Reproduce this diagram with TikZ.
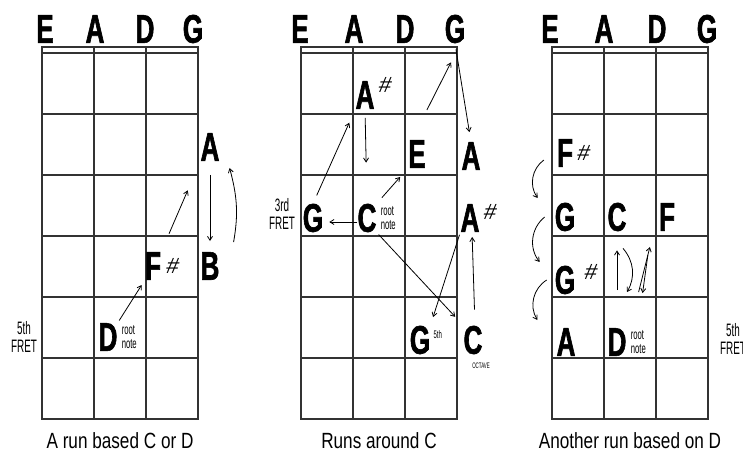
\documentclass[tikz,border=0pt]{standalone}
\usepackage{fontspec}
\setmainfont{Liberation Sans}
\newfontfamily\notefont[FakeStretch=0.65,FakeBold=1.5]{Liberation Sans}
\newfontfamily\capfont[FakeStretch=0.78]{Liberation Sans}
\newfontfamily\sharpfont[FakeSlant=0.2]{Liberation Sans}
\newfontfamily\thinfont[FakeStretch=0.55]{Liberation Sans}
\usepackage{tikz}
\usetikzlibrary{positioning, arrows.meta, calc}
\newcommand{\Board}{%
  \draw[fret] (0,47) rectangle (156,419);
  \draw[fret] (0,53) -- (156,53);
  \foreach \s in {52,104} \draw[fret] (\s,47) -- (\s,419);
  \foreach \f in {114,175,236,297,358} \draw[fret] (0,\f) -- (156,\f);
}
\tikzset{
  note/.style={font=\notefont\bfseries\fontsize{40}{40}\selectfont, inner sep=0pt},
  sharp/.style={font=\sharpfont\fontsize{22}{22}\selectfont, inner sep=0pt},
  small/.style={font=\thinfont\fontsize{14}{14}\selectfont, align=left, inner sep=0pt},
  tiny/.style={font=\thinfont\fontsize{11}{11}\selectfont, inner sep=0pt},
  fretlbl/.style={font=\thinfont\fontsize{18}{18}\selectfont, align=center, inner sep=0pt},
  caption/.style={font=\capfont\fontsize{22}{22}\selectfont, inner sep=0pt},
  fret/.style={line width=1.1pt, black!80},
  arr/.style={-{Straight Barb[length=4pt,width=5pt]}, line width=0.8pt},
}

\begin{document}
\begin{tikzpicture}[x=1pt, y=-1pt]
    \fill[white] (0,0) rectangle (743,457);
    \useasboundingbox (0,0) rectangle (743,457);

    % A run based C or D
    \begin{scope}[xshift=42pt]
        \Board
        \foreach \s/\x in {E/3,A/53,D/103,G/151}
            \node[note] (hA\s) at (\x,29) {\s};
        \node[note] (a1) at (168,147) {A};
        \node[note] (b1) at (168,266) {B};
        \node[note] (f1) at (111,266) {F};
        \node[sharp, right=4pt of f1] (f1s) {\#};
        \node[note] (d1) at (66,337) {D};
        \node[small, right=4pt of d1] (d1r) {root\\note};
        \node[fretlbl] (fr1) at (-18,337) {5th\\FRET};
        \draw[arr, shorten <=3pt, shorten >=6pt] (d1.north east) -- (f1.south west);
        \draw[arr, shorten <=20pt, shorten >=32pt] (f1.north east) -- (a1.south west);
        \draw[arr, shorten <=14pt, shorten >=11pt] (a1.south) -- (b1.north);
        \draw[arr] ([xshift=14pt,yshift=10pt]b1.north east) to[out=80,in=-75] ([xshift=10pt,yshift=-7pt]a1.south east);
        \node[caption] (cap1) at (78,441) {A run based C or D};
    \end{scope}

    % Runs around C
    \begin{scope}[xshift=301pt]
        \Board
        \foreach \s/\x in {E/-1,A/53,D/104,G/154}
            \node[note] (hB\s) at (\x,29) {\s};
        \node[note] (a2) at (64,95) {A};
        \node[sharp, right=3pt of a2.north east, yshift=-4pt] (a2s) {\#};
        \node[note] (e2) at (116,154) {E};
        \node[note] (a2r) at (170,156) {A};
        \node[note] (g2) at (12,218) {G};
        \node[fretlbl] (fr2) at (-19,214) {3rd\\FRET};
        \node[note] (c2) at (66,218) {C};
        \node[small, right=4pt of c2] (c2r) {root\\note};
        \node[note] (as2) at (169,218) {A};
        \node[sharp, right=3pt of as2.north east, yshift=-8pt] (as2s) {\#};
        \node[note] (g2b) at (119,340) {G};
        \node[tiny, right=3pt of g2b, yshift=5pt] (g2bs) {5th};
        \node[note] (c2b) at (172,340) {C};
        \node[tiny, font=\thinfont\fontsize{8}{8}\selectfont, below=8pt of c2b, xshift=8pt] (oct) {OCTAVE};
        \draw[arr] ([xshift=1pt,yshift=30pt]e2.north east) -- ([xshift=-4pt,yshift=-19pt]hBG.south);
        \draw[arr, shorten <=6pt, shorten >=10pt] (hBG.south) -- (a2r.north);
        \draw[arr, shorten <=9pt, shorten >=15pt] (g2.north) -- (a2.south west);
        \draw[arr, shorten <=9pt, shorten >=41pt] (a2.south) -- (c2.north);
        \draw[arr, shorten <=8pt, shorten >=12pt] (c2.north east) -- (e2.south west);
        \draw[arr, shorten >=6pt] ([yshift=-4pt]c2.west) -- ([yshift=-4pt]g2.east);
        \draw[arr, shorten <=3pt, shorten >=12pt] (c2.south east) -- (c2b.north west);
        \draw[arr, shorten <=3pt, shorten >=9pt] (as2.south west) -- (g2b.north east);
        \draw[arr, shorten <=16pt, shorten >=5pt] ([xshift=2pt]c2b.north) -- ([xshift=2pt]as2.south);
        \node[caption] (cap2) at (78,441) {Runs around C};
    \end{scope}

    % Another run based on D
    \begin{scope}[xshift=552pt]
        \Board
        \foreach \s/\x in {E/-2,A/52,D/105,G/155}
            \node[note] (hC\s) at (\x,29) {\s};
        \node[note] (f3) at (13,153) {F};
        \node[sharp, right=3pt of f3] (f3s) {\#};
        \node[note] (g3) at (13,217) {G};
        \node[note] (c3) at (65,217) {C};
        \node[note] (f3b) at (115,217) {F};
        \node[note] (gs3) at (13,280) {G};
        \node[sharp, right=8pt of gs3, yshift=8pt] (gs3s) {\#};
        \node[note] (a3) at (14,342) {A};
        \node[note] (d3) at (65,342) {D};
        \node[small, right=4pt of d3] (d3r) {root\\note};
        \node[fretlbl] (fr3) at (181,339) {5th\\FRET};
        \draw[arr] ([xshift=-13pt,yshift=-7pt]f3.west) to[bend right=45] ([xshift=-17pt,yshift=19pt]g3.west);
        \draw[arr] ([xshift=-10pt]g3.west) to[bend right=45] ([xshift=-15pt,yshift=18pt]gs3.west);
        \draw[arr] ([xshift=-8pt]gs3.west) to[bend right=45] ([xshift=-19pt,yshift=22pt]a3.west);
        \draw[arr, shorten <=38pt, shorten >=19pt] (d3.north) -- (c3.south);
        \draw[arr] ([xshift=6pt,yshift=-17pt]c3.south) to[bend left=35] ([xshift=10pt,yshift=36pt]d3.north);
        \draw[arr] ([xshift=12pt,yshift=36pt]d3.north east) -- ([xshift=-9pt,yshift=-16pt]f3b.south west);
        \draw[arr] ([xshift=-11pt,yshift=-24pt]f3b.south west) -- ([xshift=16pt,yshift=35pt]d3.north east);
        \node[caption] (cap3) at (78,441) {Another run based on D};
    \end{scope}
\end{tikzpicture}
\end{document}
